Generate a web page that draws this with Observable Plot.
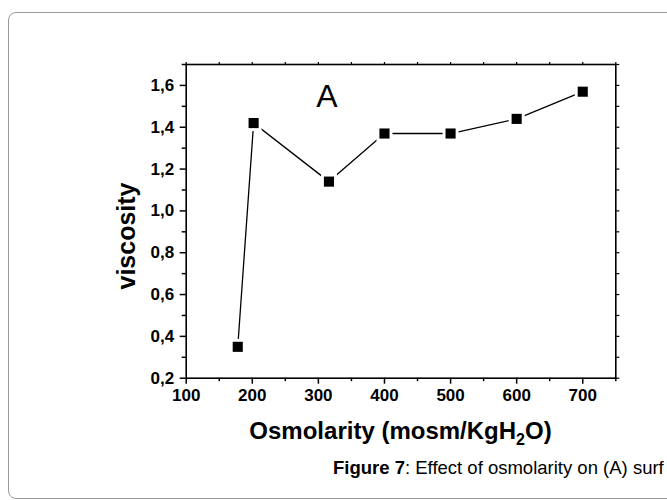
<!DOCTYPE html>
<html>
<head>
<meta charset="utf-8">
<script src="https://cdn.jsdelivr.net/npm/d3@7"></script>
<script src="https://cdn.jsdelivr.net/npm/@observablehq/plot@0.6"></script>
<style>
  html, body { margin: 0; padding: 0; background: #fff; }
  body { width: 667px; height: 500px; position: relative; overflow: hidden; font-family: "Liberation Sans", Arial, sans-serif; }
  #frame { position: absolute; left: 8px; top: 12px; width: 720px; height: 485px; border: 1px solid #9a9a9a; border-radius: 8px; }
  #chart { position: absolute; left: 0; top: 0; }
  .xlabel { position: absolute; left: 400.5px; top: 419px; transform: translateX(-50%); font-size: 24px; line-height: 24px; font-weight: bold; white-space: nowrap; color: #000; }
  .xlabel sub { font-size: 16px; vertical-align: -6px; line-height: 0; }
  .ylabel { position: absolute; left: 126px; top: 236px; transform: translate(-50%, -50%) rotate(-90deg); font-size: 25px; line-height: 25px; font-weight: bold; white-space: nowrap; color: #000; }
  .caption { position: absolute; left: 333px; top: 459px; font-size: 18.5px; line-height: 18.5px; white-space: nowrap; color: #000; }
</style>
</head>
<body>
<div id="frame"></div>
<div id="chart"></div>
<div class="ylabel">viscosity</div>
<div class="xlabel">Osmolarity (mosm/KgH<sub>2</sub>O)</div>
<div class="caption"><b>Figure 7</b>: Effect of osmolarity on (A) surf</div>
<script>
const osmolarity = [178, 202, 316, 400, 500, 600, 700];
const viscosity = [0.35, 1.42, 1.14, 1.37, 1.37, 1.44, 1.57];
const xMajorTicks = [100, 200, 300, 400, 500, 600, 700];
const xMinorTicks = [150, 250, 350, 450, 550, 650, 750];
const yMajorTicks = [0.2, 0.4, 0.6, 0.8, 1.0, 1.2, 1.4, 1.6];
const yMinorTicks = [0.3, 0.5, 0.7, 0.9, 1.1, 1.3, 1.5, 1.7];
const panelLabel = [{x: 313, y: 1.544, text: "A"}];

const data = osmolarity.map((x, i) => ({x, y: viscosity[i]}));
const fmtY = d => d3.format(".1f")(d).replace(".", ",");
const tickFont = {fontSize: 17, fontWeight: "bold"};

const plot = Plot.plot({
  width: 667,
  height: 420,
  marginLeft: 185.7,
  marginRight: 51.7,
  marginTop: 64,
  marginBottom: 42.3,
  style: {fontFamily: '"Liberation Sans", Arial, sans-serif', fontSize: "17px", fontWeight: "bold", color: "#000", background: "transparent"},
  x: {domain: [100, 750]},
  y: {domain: [0.2, 1.7]},
  marks: [
    Plot.axisX({ticks: xMajorTicks, tickSize: 6, tickPadding: 4.5, tickFormat: d => String(d), label: null, strokeWidth: 1.5, ...tickFont}),
    Plot.axisX({ticks: xMinorTicks, tickSize: 3.5, text: null, label: null, strokeWidth: 1.5}),
    Plot.axisX({anchor: "top", ticks: xMajorTicks.concat(xMinorTicks), tickSize: 3, text: null, label: null, strokeWidth: 1.2}),
    Plot.axisY({ticks: yMajorTicks, tickSize: 6, tickPadding: 6, tickFormat: fmtY, label: null, strokeWidth: 1.5, ...tickFont}),
    Plot.axisY({ticks: yMinorTicks, tickSize: 4, text: null, label: null, strokeWidth: 1.5}),
    Plot.axisY({anchor: "right", ticks: yMajorTicks.concat(yMinorTicks), tickSize: 3, text: null, label: null, strokeWidth: 1.2}),
    Plot.frame({stroke: "#000", strokeWidth: 1.6}),
    Plot.line(data, {x: "x", y: "y", stroke: "#000", strokeWidth: 1.3}),
    Plot.dot(data, {x: "x", y: "y", symbol: "square", r: 9.0, fill: "#fff", stroke: null}),
    Plot.dot(data, {x: "x", y: "y", symbol: "square", r: 5.7, fill: "#000", stroke: null}),
    Plot.text(panelLabel, {x: "x", y: "y", text: "text", fontSize: 32, fontWeight: "normal", fill: "#000", lineAnchor: "middle"})
  ]
});
document.getElementById("chart").appendChild(plot);
</script>
</body>
</html>
